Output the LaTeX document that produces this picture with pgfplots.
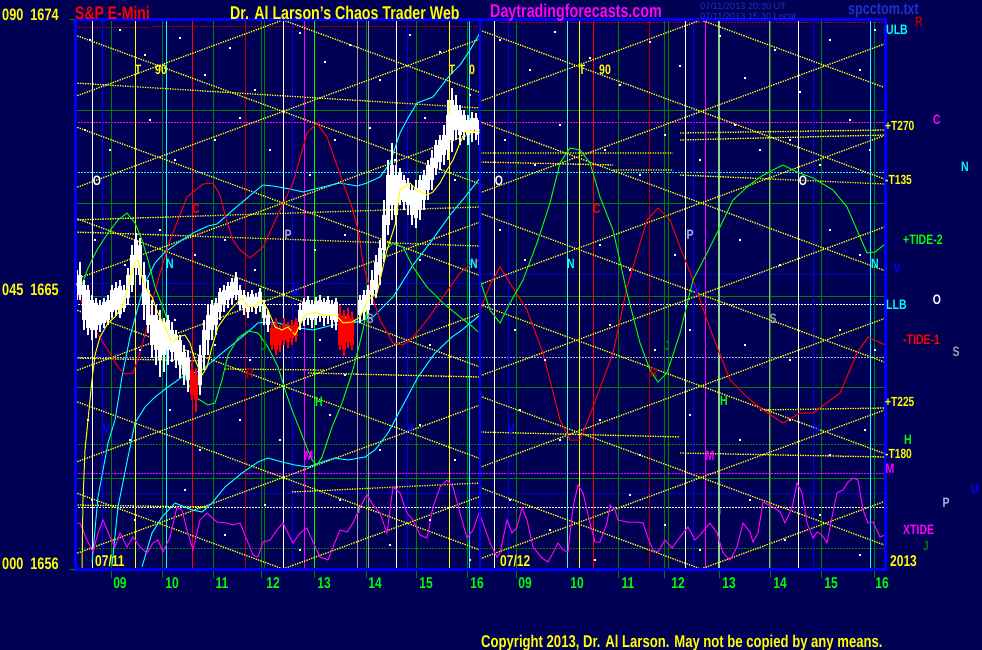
\documentclass[border=0pt]{standalone}
\usepackage{pgfplots}
\usepackage{pgfplotstable}
\pgfplotsset{compat=1.18}
\usepackage{graphicx}
\usepackage{fontspec}
\setmainfont{Liberation Sans}

\definecolor{bg}{RGB}{0,0,84}
\definecolor{dgreen}{RGB}{0,128,0}
\definecolor{lgreen}{RGB}{0,255,0}
\definecolor{cyanc}{RGB}{0,255,255}
\definecolor{yel}{RGB}{255,255,0}
\definecolor{mag}{RGB}{255,0,255}
\definecolor{blu}{RGB}{0,0,255}
\definecolor{rd}{RGB}{255,0,0}
\definecolor{dred}{RGB}{176,0,0}
\definecolor{lav}{RGB}{176,176,224}
\definecolor{gry}{RGB}{160,160,160}
\definecolor{aqua}{RGB}{64,255,192}
\definecolor{pgreen}{RGB}{144,208,144}
\definecolor{datebl}{RGB}{32,48,208}

% bold pixel-ish label: size, text
\newcommand{\bt}[2]{\scalebox{1}[1.3]{\fontsize{#1}{#1}\selectfont\bfseries #2}}

% day 1 candles, pixel coords (x, high, low, body top, body bottom)
\pgfplotstableread{
x hi lo top bot
77 270 300 278 290
80 262 300 275 295
84 280 330 285 320
88 285 335 290 328
92 295 340 300 330
96 298 338 303 330
100 300 332 305 325
104 298 328 302 323
108 295 325 300 320
112 285 318 290 312
116 282 316 288 310
120 280 318 286 314
124 285 312 290 308
128 268 305 275 298
132 245 292 255 285
136 233 275 240 268
140 238 285 245 275
144 262 320 275 305
148 280 333 290 325
152 300 358 315 345
156 305 365 315 350
160 310 377 320 360
164 318 372 322 355
168 315 365 320 350
172 322 362 330 352
176 330 368 335 360
180 335 378 340 365
184 345 385 352 375
188 350 392 358 380
200 345 395 355 385
204 320 370 330 355
208 305 355 315 340
212 300 340 305 330
216 298 335 303 325
220 288 320 292 312
224 285 312 290 305
228 282 308 286 300
232 278 305 282 298
236 272 300 278 295
240 285 310 290 305
244 290 315 295 308
248 292 318 297 312
252 290 312 294 306
256 293 314 297 308
260 288 312 292 306
264 300 325 305 318
268 310 332 315 325
300 303 330 310 322
304 298 326 302 320
308 296 325 300 318
312 300 328 304 320
316 297 325 301 318
320 295 322 300 316
324 298 326 302 318
328 296 324 300 316
332 300 328 304 320
336 298 330 302 322
360 295 323 300 315
364 290 320 295 312
368 285 318 290 310
372 270 305 280 295
376 255 298 262 290
380 240 285 248 275
384 200 262 215 250
388 160 235 175 225
392 143 220 165 205
396 165 225 175 215
400 168 205 172 200
404 175 210 180 202
408 178 215 183 205
412 185 225 190 215
416 180 228 188 218
420 175 220 180 210
424 170 210 175 200
428 160 200 165 190
432 150 190 158 180
436 140 175 145 168
440 135 170 140 162
444 125 165 135 155
448 100 160 115 150
452 88 152 100 140
456 95 140 105 130
460 105 145 110 135
464 110 140 115 132
468 115 145 120 135
472 112 142 118 133
476 113 140 118 130
479 120 145 125 135
}\candW

\pgfplotstableread{
x hi lo top bot
192 360 400 370 395
196 368 412 375 400
272 322 350 328 345
276 318 355 325 350
280 325 352 330 345
284 318 345 325 340
288 322 348 328 342
292 320 345 325 338
296 318 342 322 336
340 305 350 315 345
344 310 356 318 350
348 308 348 315 342
352 312 350 318 345
}\candR

\begin{document}
\begin{tikzpicture}
\begin{axis}[
  scale only axis, width=982pt, height=650pt,
  xmin=0, xmax=982, ymin=0, ymax=650, y dir=reverse,
  axis line style={draw=none}, xtick=\empty, ytick=\empty,
  axis background/.style={fill=bg},
  unbounded coords=jump,
  every axis plot/.append style={line width=1pt},
]

% stars
\addplot[only marks, mark=square*, mark size=0.5pt, white] coordinates {
(90,40) (120,30) (145,55) (180,38) (205,75) (230,48) (255,90) (300,33) (325,62) (350,45) (380,80) (410,35) (440,52) (470,95) (500,40) (530,70) (555,32) (590,58) (620,85) (650,42) (680,66) (720,36) (745,78) (775,50) (800,92) (830,40) (860,70) (875,30)
(85,130) (110,150) (150,120) (175,160) (215,140) (240,118) (270,150) (310,175) (335,140) (370,128) (395,160) (425,118) (455,180) (505,140) (535,165) (560,125) (605,150) (640,175) (665,135) (700,160) (735,125) (760,150) (790,140) (820,165) (850,120) (870,150)
(95,240) (125,265) (160,230) (195,255) (225,240) (255,270) (315,250) (345,235) (420,260) (500,230) (525,260) (600,245) (630,270) (675,255) (740,240) (780,265) (830,230) (860,255)
(100,330) (140,350) (175,320) (215,345) (250,360) (320,340) (345,375) (430,345) (515,330) (545,360) (610,325) (655,350) (690,330) (745,345) (790,360) (840,330) (875,350)
(88,420) (130,440) (170,410) (200,450) (240,420) (280,440) (330,415) (380,450) (420,425) (455,460) (520,410) (560,440) (600,420) (640,455) (690,415) (740,440) (790,420) (830,455) (865,430)
(92,500) (135,520) (185,490) (225,535) (265,505) (300,550) (340,500) (390,545) (430,520) (470,560) (510,500) (550,530) (595,560) (630,495) (665,525) (700,550) (750,500) (785,540) (820,515) (860,555)
};

% horizontal levels
\addplot[dgreen] coordinates {(75,111) (885,111) (0,nan) (75,203) (885,203) (0,nan) (75,296) (885,296) (0,nan) (75,387) (885,387) (0,nan) (75,478) (885,478)};
\addplot[dgreen, dash pattern=on 2pt off 1pt] coordinates {(75,444) (885,444) (0,nan) (75,548) (885,548)};
\addplot[mag, dash pattern=on 2pt off 1pt] coordinates {(75,123) (885,123) (0,nan) (75,473) (885,473)};
\addplot[cyanc, dash pattern=on 2pt off 1pt] coordinates {(75,172) (885,172)};
\addplot[blu, dash pattern=on 2pt off 1pt] coordinates {(75,283) (480,283) (0,nan) (480,274) (885,274) (0,nan) (75,493) (885,493)};
\addplot[white, dash pattern=on 2pt off 1pt] coordinates {(75,304) (885,304) (0,nan) (75,507) (885,507)};
\addplot[lav, dash pattern=on 2pt off 1pt] coordinates {(75,357) (885,357)};
\addplot[dred, dash pattern=on 2pt off 1pt] coordinates {(75,28) (150,28) (0,nan) (152,27) (480,27) (0,nan) (500,23) (885,23)};

% vertical time lines
\addplot[dgreen] coordinates {(111,20) (111,578) (0,nan) (162,20) (162,578) (0,nan) (213,20) (213,578) (0,nan) (261,20) (261,578) (0,nan) (264,20) (264,569) (0,nan) (366,20) (366,578) (0,nan) (416,20) (416,578) (0,nan) (467,20) (467,578) (0,nan) (516,20) (516,578) (0,nan) (618,20) (618,578) (0,nan) (664,20) (664,578) (0,nan) (668,20) (668,569) (0,nan) (770,20) (770,578) (0,nan) (821,20) (821,578) (0,nan) (874,20) (874,578) (0,nan) (314,569) (314,578) (0,nan) (719,569) (719,578)};
\addplot[lgreen] coordinates {(314,20) (314,569)};
\addplot[pgreen, line width=2pt] coordinates {(719,20) (719,569)};
\addplot[white] coordinates {(92,20) (92,569) (0,nan) (283,20) (283,569) (0,nan) (396,20) (396,569) (0,nan) (494,20) (494,569) (0,nan) (685,20) (685,569) (0,nan) (798,20) (798,569)};
\addplot[blu] coordinates {(102,20) (102,569) (0,nan) (292,20) (292,569) (0,nan) (407,20) (407,569) (0,nan) (508,20) (508,569) (0,nan) (693,20) (693,569) (0,nan) (813,20) (813,569)};
\addplot[yel] coordinates {(135,20) (135,569) (0,nan) (449,20) (449,569) (0,nan) (579,20) (579,569)};
\addplot[cyanc] coordinates {(166,20) (166,569) (0,nan) (469,20) (469,569) (0,nan) (870,20) (870,569)};
\addplot[aqua] coordinates {(567,20) (567,569)};
\addplot[rd] coordinates {(192,20) (192,569) (0,nan) (593,20) (593,569)};
\addplot[dred] coordinates {(245,20) (245,569) (0,nan) (649,20) (649,569)};
\addplot[mag] coordinates {(304,20) (304,569) (0,nan) (705,20) (705,569)};
\addplot[gry] coordinates {(357,20) (357,569) (0,nan) (368,20) (368,569) (0,nan) (769,20) (769,569)};

% yellow lattice, day 1 (centre x 283) and day 2 (centre x 701)
\addplot[yel, line width=1.3pt, dash pattern=on 1.3pt off 1.2pt] coordinates {
(283,20) (480,92.5) (0,nan) (75,96.5) (283,20) (0,nan)
(75,35) (480,184) (0,nan) (75,188) (480,39) (0,nan)
(75,126.5) (480,275.5) (0,nan) (75,279.5) (480,130.5) (0,nan)
(75,218) (480,367) (0,nan) (75,371) (480,222) (0,nan)
(75,309.5) (480,458.5) (0,nan) (75,462.5) (480,313.5) (0,nan)
(75,401) (480,550) (0,nan) (75,554) (480,405) (0,nan)
(75,492.5) (283,569) (0,nan) (283,569) (480,496.5) (0,nan)
(701,20) (885,87.7) (0,nan) (480,101.3) (701,20) (0,nan)
(480,30.2) (885,179.2) (0,nan) (480,192.8) (885,43.8) (0,nan)
(480,121.7) (885,270.7) (0,nan) (480,284.3) (885,135.3) (0,nan)
(480,213.2) (885,362.2) (0,nan) (480,375.8) (885,226.8) (0,nan)
(480,304.7) (885,453.7) (0,nan) (480,467.3) (885,318.3) (0,nan)
(480,396.2) (885,545.2) (0,nan) (480,558.8) (885,409.8) (0,nan)
(480,487.7) (701,569) (0,nan) (701,569) (885,501.3)
};
% near-flat yellow levels
\addplot[yel, line width=1.3pt, dash pattern=on 1.3pt off 1.2pt] coordinates {
(75,83) (480,108) (0,nan) (75,220) (480,207) (0,nan) (75,232) (480,246) (0,nan)
(75,358) (205,361) (0,nan) (225,369) (325,370) (0,nan) (308,373) (480,377) (0,nan)
(292,492) (480,483) (0,nan) (75,505) (208,507) (0,nan)
(480,153) (673,153) (0,nan) (480,162) (613,165) (0,nan) (613,170) (673,170) (0,nan)
(680,133) (885,130) (0,nan) (680,140) (885,135) (0,nan) (680,175) (885,184) (0,nan)
(480,432) (680,437) (0,nan) (760,410) (885,408) (0,nan) (680,453) (885,457)
};

% cyan curves, day 1
\addplot[cyanc] coordinates {(92,562) (98,497) (108,443) (115,420) (122,377) (130,337) (138,307) (145,283) (155,263) (165,252) (182,240) (195,232) (208,226) (217,224) (233,210) (253,193) (263,185) (273,186) (290,189) (303,192) (323,187) (340,183) (357,186) (367,183) (380,177) (390,163) (400,133) (408,118) (417,103) (433,97) (450,75) (460,65) (470,50) (480,33)};
\addplot[cyanc] coordinates {(112,565) (118,507) (128,457) (135,423) (145,407) (155,397) (168,387) (182,377) (202,370) (222,353) (242,337) (258,323) (268,322) (278,323) (293,327) (313,330) (333,325) (353,323) (373,317) (393,297) (413,265) (430,243) (450,215) (465,197) (480,178)};
\addplot[cyanc] coordinates {(142,567) (152,533) (162,517) (175,503) (192,510) (202,512) (212,503) (225,487) (242,473) (258,462) (268,458) (282,462) (295,465) (308,467) (322,462) (335,458) (348,460) (365,457) (375,450) (388,433) (402,407) (418,377) (435,353) (452,337) (462,330) (480,315)};

% red tide curve
\addplot[rd] coordinates {(75,290) (88,313) (95,330) (108,350) (118,367) (125,374) (133,373) (140,353) (147,327) (152,303) (158,280) (165,257) (170,240) (178,220) (187,197) (193,192) (203,184) (213,183) (220,195) (227,222) (233,240) (240,250) (250,258) (263,247) (270,232) (280,210) (293,183) (300,158) (307,133) (317,123) (327,137) (335,160) (343,183) (353,210) (358,230) (363,263) (370,290) (380,320) (393,343) (403,345) (413,337) (427,320) (443,297) (460,273) (473,263) (480,260) (480,340)};
\addplot[rd] coordinates {(480,310) (490,285) (500,267) (510,283) (527,310) (543,353) (560,420) (570,440) (580,440) (593,407) (613,353) (627,287) (647,220) (658,208) (670,220) (680,247) (693,280) (707,320) (717,347) (730,380) (747,397) (763,410) (783,423) (800,413) (813,413) (840,393) (857,353) (868,337) (885,345)};

% green tide curve
\addplot[lgreen] coordinates {(80,290) (88,268) (97,250) (108,233) (118,220) (127,213) (135,223) (142,240) (148,260) (155,287) (165,313) (175,347) (185,377) (195,397) (208,405) (215,403) (222,380) (228,355) (238,338) (248,331) (258,333) (268,347) (278,367) (285,390) (292,410) (300,430) (307,448) (312,460) (317,465) (322,457) (332,427) (342,403) (352,373) (358,350) (363,330) (370,293) (383,253) (393,243) (403,247) (413,267) (427,287) (443,303) (460,317) (473,327) (478,332)};
\addplot[lgreen] coordinates {(480,280) (490,310) (500,323) (510,303) (523,280) (537,243) (550,203) (560,163) (570,148) (580,150) (590,163) (600,197) (613,230) (627,293) (640,343) (650,370) (658,382) (667,373) (680,333) (693,280) (707,253) (720,227) (733,200) (747,187) (760,177) (773,170) (783,165) (797,172) (813,178) (833,190) (847,207) (860,237) (867,253) (875,252) (885,244)};

% XTIDE
\addplot[mag] coordinates {(75,523) (80,523) (87,540) (93,552) (98,533) (103,520) (110,537) (115,547) (120,533) (127,547) (133,537) (140,547) (147,553) (153,543) (158,540) (163,552) (170,537) (177,507) (182,510) (187,530) (193,550) (200,520) (207,513) (217,522) (227,523) (233,525) (240,523) (247,540) (253,555) (258,557) (263,542) (270,540) (277,530) (283,523) (290,537) (293,543) (300,533) (307,528) (313,542) (320,557) (328,560) (333,547) (340,530) (347,532) (353,523) (360,507) (367,495) (373,505) (380,513) (387,533) (393,487) (400,493) (407,513) (413,520) (420,535) (427,538) (433,507) (440,487) (447,480) (453,487) (460,513) (467,538) (473,530) (479,513) (483,523) (490,543) (497,557) (500,553) (507,520) (512,533) (517,527) (522,508) (527,520) (533,547) (542,558) (548,562) (553,553) (558,543) (563,550) (568,552) (573,507) (578,485) (583,493) (590,523) (595,542) (600,542) (607,523) (610,505) (615,510) (618,520) (627,522) (637,522) (643,523) (648,538) (653,550) (658,552) (665,540) (672,548) (680,537) (688,527) (695,540) (700,535) (710,523) (717,533) (723,553) (730,560) (737,547) (743,523) (750,532) (753,542) (758,533) (763,502) (773,507) (780,512) (785,523) (792,508) (797,483) (802,493) (807,523) (813,538) (817,532) (822,535) (827,543) (832,517) (837,493) (843,490) (848,482) (853,478) (858,480) (863,510) (868,523) (873,522) (880,537) (885,535)};

% candles
\addplot[white, only marks, mark size=0.1pt, error bars/.cd, y dir=both, y explicit, error mark=none, error bar style={white, line width=1.2pt}]
  table[x=x, y expr=(\thisrow{hi}+\thisrow{lo})/2, y error expr=(\thisrow{lo}-\thisrow{hi})/2] {\candW};
\addplot[white, only marks, mark size=0.1pt, error bars/.cd, y dir=both, y explicit, error mark=none, error bar style={white, line width=3.8pt}]
  table[x=x, y expr=(\thisrow{top}+\thisrow{bot})/2, y error expr=(\thisrow{bot}-\thisrow{top})/2] {\candW};
\addplot[rd, only marks, mark size=0.1pt, error bars/.cd, y dir=both, y explicit, error mark=none, error bar style={rd, line width=1.2pt}]
  table[x=x, y expr=(\thisrow{hi}+\thisrow{lo})/2, y error expr=(\thisrow{lo}-\thisrow{hi})/2] {\candR};
\addplot[rd, only marks, mark size=0.1pt, error bars/.cd, y dir=both, y explicit, error mark=none, error bar style={rd, line width=3.8pt}]
  table[x=x, y expr=(\thisrow{top}+\thisrow{bot})/2, y error expr=(\thisrow{bot}-\thisrow{top})/2] {\candR};

% moving average over the bars
\addplot[yel] coordinates {(82,569) (83,500) (85,450) (88,420) (92,380) (95,355) (100,337) (108,323) (115,317) (122,307) (128,287) (135,263) (138,260) (142,277) (145,287) (152,297) (158,313) (165,327) (172,343) (178,337) (185,335) (190,343) (195,360) (202,375) (207,367) (212,347) (218,327) (225,317) (232,308) (242,298) (248,307) (255,306) (262,300) (268,310) (275,327) (282,330) (288,327) (295,335) (305,315) (315,312) (325,316) (335,314) (343,323) (352,322) (360,317) (368,300) (377,293) (387,250) (395,225) (400,190) (410,183) (417,190) (427,195) (433,192) (440,183) (447,170) (453,160) (460,143) (465,132) (470,130) (477,132) (480,130)};

% frame
\addplot[blu, line width=2pt] coordinates {(480,20) (480,569)};
\addplot[blu, line width=3pt] coordinates {(75,20) (885,20) (885,569) (75,569) (75,20)};
\addplot[dgreen] coordinates {(70,20) (75,20) (0,nan) (70,569) (75,569)};

% header
\node[anchor=west, text=yel, inner sep=0pt] at (2,15) {\bt{12.7}{090\ \ 1674}};
\node[anchor=west, text=yel, inner sep=0pt] at (2,290) {\bt{12.7}{045\ \ 1665}};
\node[anchor=west, text=yel, inner sep=0pt] at (2,564) {\bt{12.7}{000\ \ 1656}};
\node[anchor=west, text=rd, inner sep=0pt] at (75,13) {\bt{14}{S\&P E-Mini}};
\node[anchor=west, text=yel, inner sep=0pt] at (230,13) {\bt{14.2}{Dr. Al Larson\symbol{39}s Chaos Trader Web}};
\node[anchor=west, text=mag, inner sep=0pt] at (490,13) {\bt{14.3}{Daytradingforecasts.com}};
\node[anchor=west, text=datebl, inner sep=0pt, font=\fontsize{9.2}{9.2}\selectfont] at (700,6.5) {07/11/2013 20:30 UT};
\node[anchor=west, text=datebl, inner sep=0pt, font=\fontsize{9.2}{9.2}\selectfont] at (700,16) {07/11/2013 15:30 Local};
\node[anchor=west, text=datebl, inner sep=0pt] at (848,11) {\bt{12.6}{spcctom.txt}};
\node[text=dred, inner sep=0pt] at (919,22) {\bt{10.5}{R}};

% time axis
\foreach \xx/\tt in {120/09,172/10,222/11,273/12,324/13,375/14,426/15,477/16,525/09,577/10,628/11,678/12,729/13,780/14,831/15,882/16}{
  \edef\temp{\noexpand\node[text=lgreen, inner sep=0pt] at (\xx,583) {\noexpand\bt{12}{\tt}};}
  \temp
}
\node[anchor=west, text=yel, inner sep=0pt] at (95,561) {\bt{12}{07/11}};
\node[anchor=west, text=yel, inner sep=0pt] at (500,561) {\bt{12}{07/12}};
\node[anchor=west, text=yel, inner sep=0pt] at (890,561) {\bt{12}{2013}};
\node[anchor=west, text=yel, inner sep=0pt] at (481,643) {\bt{13.1}{Copyright 2013, Dr. Al Larson. May not be copied by any means.}};

% right side labels
\node[anchor=west, text=cyanc, inner sep=0pt] at (886,30) {\bt{10.5}{ULB}};
\node[anchor=west, text=yel, inner sep=0pt] at (885,126) {\bt{10.2}{+T270}};
\node[text=mag, inner sep=0pt] at (937,120) {\bt{10.5}{C}};
\node[text=cyanc, inner sep=0pt] at (965,167) {\bt{10.5}{N}};
\node[anchor=west, text=yel, inner sep=0pt] at (885,180) {\bt{10.2}{-T135}};
\node[anchor=west, text=lgreen, inner sep=0pt] at (903,240) {\bt{10.5}{+TIDE-2}};
\node[text=blu, inner sep=0pt] at (897,269) {\bt{10.5}{V}};
\node[anchor=west, text=cyanc, inner sep=0pt] at (886,305) {\bt{10.5}{LLB}};
\node[text=white, inner sep=0pt] at (937,300) {\bt{10.5}{O}};
\node[anchor=west, text=rd, inner sep=0pt] at (903,340) {\bt{10.5}{-TIDE-1}};
\node[text=gry, inner sep=0pt] at (956,352) {\bt{10.5}{S}};
\node[anchor=west, text=yel, inner sep=0pt] at (885,402) {\bt{10.2}{+T225}};
\node[text=lgreen, inner sep=0pt] at (908,440) {\bt{10.5}{H}};
\node[anchor=west, text=yel, inner sep=0pt] at (885,454) {\bt{10.2}{-T180}};
\node[text=mag, inner sep=0pt] at (890,469) {\bt{10.5}{M}};
\node[text=blu, inner sep=0pt] at (975,489) {\bt{10.5}{U}};
\node[text=lav, inner sep=0pt] at (946,503) {\bt{10.5}{P}};
\node[anchor=west, text=mag, inner sep=0pt] at (903,530) {\bt{10.5}{XTIDE}};
\node[text=dgreen, inner sep=0pt] at (926,546) {\bt{10}{J}};

% labels inside the chart
\node[text=yel, inner sep=0pt] at (138,70) {\bt{10.5}{T}};
\node[text=yel, inner sep=0pt] at (161,70) {\bt{10.5}{90}};
\node[text=yel, inner sep=0pt] at (452,70) {\bt{10.5}{T}};
\node[text=yel, inner sep=0pt] at (472,70) {\bt{10.5}{0}};
\node[text=yel, inner sep=0pt] at (582,70) {\bt{10.5}{T}};
\node[text=yel, inner sep=0pt] at (605,70) {\bt{10.5}{90}};
\node[text=white, inner sep=0pt] at (97,181) {\bt{10.5}{O}};
\node[text=white, inner sep=0pt] at (499,181) {\bt{10.5}{O}};
\node[text=white, inner sep=0pt] at (803,181) {\bt{10.5}{O}};
\node[text=rd, inner sep=0pt] at (196,209) {\bt{10.5}{C}};
\node[text=rd, inner sep=0pt] at (597,209) {\bt{10.5}{C}};
\node[text=lav, inner sep=0pt] at (288,235) {\bt{10.5}{P}};
\node[text=lav, inner sep=0pt] at (690,235) {\bt{10.5}{P}};
\node[text=cyanc, inner sep=0pt] at (170,264) {\bt{10.5}{N}};
\node[text=cyanc, inner sep=0pt] at (474,264) {\bt{10.5}{N}};
\node[text=cyanc, inner sep=0pt] at (571,264) {\bt{10.5}{N}};
\node[text=cyanc, inner sep=0pt] at (875,264) {\bt{10.5}{N}};
\node[text=blu, inner sep=0pt] at (296,291) {\bt{10.5}{V}};
\node[text=blu, inner sep=0pt] at (697,290) {\bt{10.5}{V}};
\node[text=gry, inner sep=0pt] at (370,319) {\bt{10.5}{S}};
\node[text=gry, inner sep=0pt] at (773,319) {\bt{10.5}{S}};
\node[text=dgreen, inner sep=0pt] at (264,346) {\bt{10.5}{J}};
\node[text=dgreen, inner sep=0pt] at (667,346) {\bt{10.5}{J}};
\node[text=dred, inner sep=0pt] at (250,374) {\bt{10.5}{R}};
\node[text=dred, inner sep=0pt] at (654,373) {\bt{10.5}{R}};
\node[text=lgreen, inner sep=0pt] at (319,402) {\bt{10.5}{H}};
\node[text=lgreen, inner sep=0pt] at (724,401) {\bt{10.5}{H}};
\node[text=blu, inner sep=0pt] at (106,429) {\bt{10.5}{V}};
\node[text=blu, inner sep=0pt] at (410,429) {\bt{10.5}{V}};
\node[text=blu, inner sep=0pt] at (511,429) {\bt{10.5}{V}};
\node[text=blu, inner sep=0pt] at (817,429) {\bt{10.5}{V}};
\node[text=mag, inner sep=0pt] at (309,456) {\bt{10.5}{M}};
\node[text=mag, inner sep=0pt] at (710,456) {\bt{10.5}{M}};
\node[text=gry, inner sep=0pt] at (359,510) {\bt{8}{I}};
\node[text=gry, inner sep=0pt] at (720,511) {\bt{8}{I}};
\end{axis}
\end{tikzpicture}
\end{document}
